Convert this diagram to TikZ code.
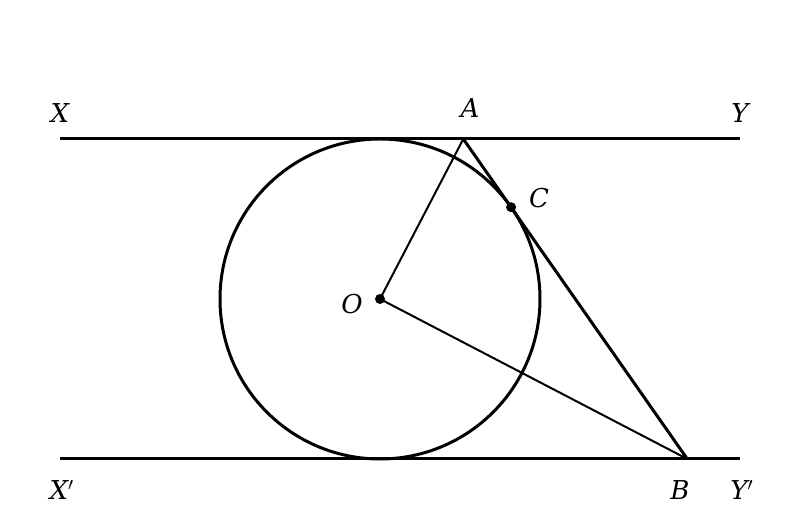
\documentclass[tikz,border=0pt]{standalone}
\usepackage{fontspec}
\setmainfont{DejaVu Serif}
\usetikzlibrary{calc}
\begin{document}
\begin{tikzpicture}[x=0.5pt,y=-0.5pt,
  thick line/.style={line width=1.5pt},
  thin line/.style={line width=1pt},
  lbl/.style={font=\fontsize{13}{15}\selectfont\itshape, inner sep=0pt},
  dot/.style={circle, fill=black, inner sep=0pt, minimum size=5pt}]
\useasboundingbox (0,0) rectangle (800,528);
\coordinate (O) at (380,299);
\coordinate (C) at (511.1,207.2);
\coordinate (A) at (463.3,139);
\coordinate (B) at (687.3,459);
\coordinate (X) at (60,139);
\coordinate (Y) at (740,139);
\coordinate (X2) at (60,459);
\coordinate (Y2) at (740,459);
% lines
\draw[thick line] (X) -- (Y);
\draw[thick line] (X2) -- (Y2);
\draw[thick line] (O) circle[radius=160];
\draw[thick line] (A) -- (B);
\draw[thin line] (O) -- (A);
\draw[thin line] (O) -- (B);
% dots
\node[dot] (Od) at (O) {};
\node[dot] (Cd) at (C) {};
% labels
\node[lbl] (lX) at (60,113) {X};
\node[lbl] (lY) at (740,113) {Y};
\node[lbl] (lA) at (470,108) {A};
\node[lbl] (lC) at (539,198) {C};
\node[lbl] (lO) at (352,304) {O};
\node[lbl] (lX2) at (62,490) {X$'$};
\node[lbl] (lB) at (680,490) {B};
\node[lbl] (lY2) at (742,490) {Y$'$};
\end{tikzpicture}
\end{document}
